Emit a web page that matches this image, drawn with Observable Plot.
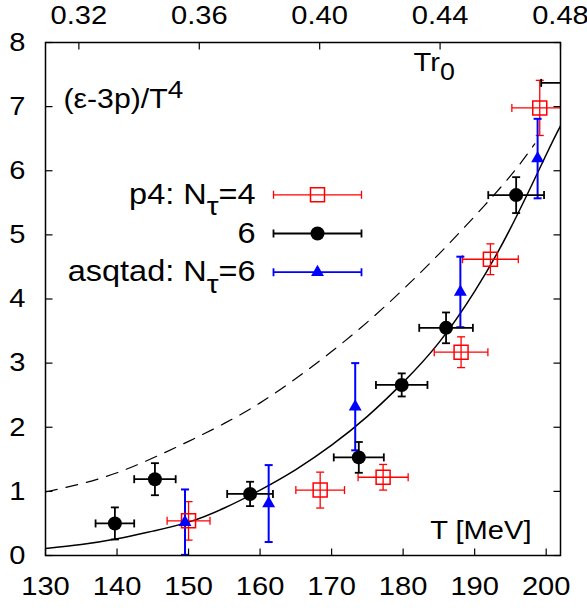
<!DOCTYPE html>
<html><head><meta charset="utf-8">
<script src="https://cdn.jsdelivr.net/npm/d3@7"></script>
<script src="https://cdn.jsdelivr.net/npm/@observablehq/plot@0.6"></script>
<style>body{margin:0;background:#fff}</style>
</head><body><div id="chart"></div>
<script>
// ---- data ----
// p4 action, N_tau = 4 (red open squares)
const p4n4T  = [150.0, 168.4, 177.2, 188.1, 192.2, 199.1];
const p4n4Y  = [0.54, 1.02, 1.22, 3.17, 4.62, 6.98];
const p4n4dT = [3.0, 3.4, 3.5, 3.75, 3.9, 3.9];
const p4n4dY = [0.30, 0.28, 0.20, 0.24, 0.24, 0.43];
// p4 action, N_tau = 6 (black filled circles)
const p4n6T  = [139.7, 145.3, 158.6, 173.8, 179.8, 186.0, 195.8, 203.5];
const p4n6Y  = [0.50, 1.19, 0.96, 1.53, 2.66, 3.55, 5.62, 7.37];
const p4n6dT = [2.7, 2.9, 3.2, 3.5, 3.6, 3.75, 3.9, 4.2];
const p4n6dY = [0.25, 0.25, 0.19, 0.24, 0.18, 0.24, 0.28, 0.30];
// asqtad action, N_tau = 6 (blue filled triangles)
const asqT  = [149.5, 161.2, 173.3, 188.0, 198.8];
const asqY  = [0.52, 0.81, 2.32, 4.11, 6.19];
const asqdY = [0.51, 0.60, 0.68, 0.55, 0.62];
// solid fit curve
const fitT = [130, 135, 140, 145, 150, 155, 160, 165, 170, 175, 180, 185, 190, 195, 200, 202];
const fitY = [0.11, 0.17, 0.26, 0.38, 0.52, 0.74, 1.02, 1.34, 1.72, 2.17, 2.70, 3.32, 4.12, 5.10, 6.25, 6.70];
// dashed curve
const dashT = [130, 135, 140, 145, 150, 155, 160, 165, 170, 175, 180, 185, 190, 195, 198.4];
const dashY = [0.99, 1.12, 1.29, 1.52, 1.78, 2.06, 2.38, 2.76, 3.18, 3.64, 4.15, 4.70, 5.29, 5.92, 6.42];
// axes
const xTicks = [130, 140, 150, 160, 170, 180, 190, 200];
const yTicks = [0, 1, 2, 3, 4, 5, 6, 7, 8];
const trTicks = [0.32, 0.36, 0.40, 0.44, 0.48];
const TperTr = 420.83;           // T [MeV] per unit of T r0
const legendLabels = ["p4: N_{τ}=4", "6", "asqtad: N_{τ}=6"];
const legendColors = ["#ff0000", "#000000", "#0000ff"];
const yLabel = "(ε-3p)/T^{4}";
const x2Label = "Tr_{0}";
const xLabel = "T [MeV]";

// ---- styling ----
const FS = 26, FSL = 29, STRETCH = 1.12;
const rad = s => Math.sqrt(s / Math.PI);
const capV = {draw(c, s){const r = rad(s); c.moveTo(0,-r); c.lineTo(0,r);}};
const capH = {draw(c, s){const r = rad(s); c.moveTo(-r,0); c.lineTo(r,0);}};
const tickUp = {draw(c, s){const r = rad(s); c.moveTo(0,0); c.lineTo(0,-r);}};
const tickDown = {draw(c, s){const r = rad(s); c.moveTo(0,0); c.lineTo(0,r);}};
const tickRight = {draw(c, s){const r = rad(s); c.moveTo(0,0); c.lineTo(r,0);}};
const tickLeft = {draw(c, s){const r = rad(s); c.moveTo(0,0); c.lineTo(-r,0);}};
const legendBar = {draw(c, s){const r = rad(s); c.moveTo(-r,0); c.lineTo(r,0);
  c.moveTo(-r,-4); c.lineTo(-r,4); c.moveTo(r,-4); c.lineTo(r,4);}};

const rows = (T, Y, dT, dY) => T.map((t, i) => ({T: t, y: Y[i], dT: dT ? dT[i] : 0, dy: dY[i]}));
const red = rows(p4n4T, p4n4Y, p4n4dT, p4n4dY);
const black = rows(p4n6T, p4n6Y, p4n6dT, p4n6dY);
const blue = rows(asqT, asqY, null, asqdY);
const fit = fitT.map((t, i) => ({T: t, y: fitY[i]}));
const dash = dashT.map((t, i) => ({T: t, y: dashY[i]}));

function errMarks(data, color, sw, withX) {
  const o = {stroke: color, strokeWidth: sw, clip: true};
  const m = [
    Plot.link(data, {x1: "T", x2: "T", y1: d => d.y - d.dy, y2: d => d.y + d.dy, ...o}),
    Plot.dot(data, {x: "T", y: d => d.y - d.dy, symbol: capH, r: 4, fill: "none", ...o}),
    Plot.dot(data, {x: "T", y: d => d.y + d.dy, symbol: capH, r: 4, fill: "none", ...o})
  ];
  if (withX) m.push(
    Plot.link(data, {x1: d => d.T - d.dT, x2: d => d.T + d.dT, y1: "y", y2: "y", ...o}),
    Plot.dot(data, {x: d => d.T - d.dT, y: "y", symbol: capV, r: 4, fill: "none", ...o}),
    Plot.dot(data, {x: d => d.T + d.dT, y: "y", symbol: capV, r: 4, fill: "none", ...o})
  );
  return m;
}

const legendRows = legendLabels.map((l, i) => ({label: l, color: legendColors[i], i}));
const legendSym = [
  {symbol: "square", r: 7.9, fill: "none", strokeWidth: 1.5},
  {symbol: "circle", r: 7, fill: "#000000", strokeWidth: 0},
  {symbol: "triangle", r: 4.8, fill: "#0000ff", strokeWidth: 0}
];
const legendMarks = legendRows.flatMap((d, i) => {
  const dy = 152.3 + i * 38.7;
  return [
    Plot.text([d.label], {text: t => t, frameAnchor: "top-left", dx: 210, dy, textAnchor: "end", lineAnchor: "middle", fill: "#000", fontSize: FSL}),
    Plot.dot([d], {frameAnchor: "top-left", dx: 272, dy, symbol: legendBar, r: 44, stroke: d.color, fill: "none", strokeWidth: i === 0 ? 1.3 : 1.8}),
    Plot.dot([d], {frameAnchor: "top-left", dx: 272, dy, stroke: d.color, ...legendSym[i], fill: legendSym[i].fill})
  ];
});

const chart = Plot.plot({
  width: 587, height: 608,
  marginLeft: 45, marginRight: 27, marginTop: 42, marginBottom: 53,
  style: {fontFamily: "'Liberation Sans', Arial, sans-serif", fontSize: FS + "px", background: "#fff", color: "#000"},
  x: {domain: [130, 202]},
  y: {domain: [0, 8]},
  marks: [
    Plot.line(dash, {x: "T", y: "y", curve: "natural", stroke: "#000", strokeWidth: 1.2, strokeDasharray: "12,9", clip: true}),
    Plot.line(fit, {x: "T", y: "y", curve: "natural", stroke: "#000", strokeWidth: 1.5, clip: true}),
    ...errMarks(red, "#ff0000", 1.3, true),
    ...errMarks(blue, "#0000ff", 2, false),
    ...errMarks(black, "#000000", 1.8, true),
    Plot.dot(red, {x: "T", y: "y", symbol: "square", r: 7.9, stroke: "#ff0000", fill: "none", strokeWidth: 1.5, clip: true}),
    Plot.dot(blue, {x: "T", y: "y", symbol: "triangle", r: 4.8, fill: "#0000ff", clip: true}),
    Plot.dot(black, {x: "T", y: "y", symbol: "circle", r: 7, fill: "#000", clip: true}),
    Plot.frame({stroke: "#000", strokeWidth: 1.5}),
    // inward ticks
    Plot.dot(xTicks, {x: d => d, frameAnchor: "bottom", symbol: tickUp, r: 7, stroke: "#000", fill: "none", strokeWidth: 1.2}),
    Plot.dot(trTicks, {x: d => d * TperTr, frameAnchor: "top", symbol: tickDown, r: 7, stroke: "#000", fill: "none", strokeWidth: 1.2}),
    Plot.dot(yTicks, {y: d => d, frameAnchor: "left", symbol: tickRight, r: 7, stroke: "#000", fill: "none", strokeWidth: 1.2}),
    Plot.dot(yTicks, {y: d => d, frameAnchor: "right", symbol: tickLeft, r: 7, stroke: "#000", fill: "none", strokeWidth: 1.2}),
    // tick labels
    Plot.axisX({ticks: xTicks, anchor: "bottom", label: null, tickSize: 0, tickPadding: 21, tickFormat: d => String(d)}),
    Plot.axisX({ticks: trTicks.map(v => v * TperTr), anchor: "top", label: null, tickSize: 0, tickPadding: 19, tickFormat: d => (d / TperTr).toFixed(2)}),
    Plot.axisY({ticks: yTicks, anchor: "left", label: null, tickSize: 0, tickPadding: 20, tickFormat: d => String(d)}),
    // labels
    Plot.text([yLabel], {text: t => t, frameAnchor: "top-left", dx: 18, dy: 65, textAnchor: "start", lineAnchor: "bottom", fontSize: 27}),
    Plot.text([x2Label], {text: t => t, frameAnchor: "top-left", dx: 368, dy: 28, textAnchor: "start", lineAnchor: "bottom"}),
    Plot.text([xLabel], {text: t => t, frameAnchor: "bottom-right", dx: -29, dy: -17, textAnchor: "end", lineAnchor: "bottom"}),
    ...legendMarks
  ]
});

// sub/superscripts and horizontal glyph stretch
const NS = "http://www.w3.org/2000/svg";
function richify(el) {
  const s = el.textContent;
  if (!/[_^]\{/.test(s)) return;
  const fs = parseFloat(getComputedStyle(el).fontSize) || parseFloat(el.getAttribute("font-size")) || FS;
  el.textContent = "";
  const re = /([_^])\{([^}]*)\}/g;
  let last = 0, m, shift = 0;
  const add = (txt, dy, size) => {
    const t = document.createElementNS(NS, "tspan");
    t.textContent = txt;
    if (dy) t.setAttribute("dy", dy);
    if (size) t.setAttribute("font-size", size);
    el.appendChild(t);
  };
  while ((m = re.exec(s))) {
    if (m.index > last) { add(s.slice(last, m.index), -shift); shift = 0; }
    const d = m[1] === "_" ? 0.38 * fs : -0.36 * fs;
    add(m[2], d - shift, 0.92 * fs);
    shift = d;
    last = re.lastIndex;
  }
  if (last < s.length) add(s.slice(last), -shift);
}
document.getElementById("chart").appendChild(chart);
chart.querySelectorAll("text").forEach(t => {
  const tr = t.getAttribute("transform") || "";
  t.setAttribute("transform", tr + ` scale(${STRETCH},1)`);
  richify(t);
});
</script>
</body></html>
